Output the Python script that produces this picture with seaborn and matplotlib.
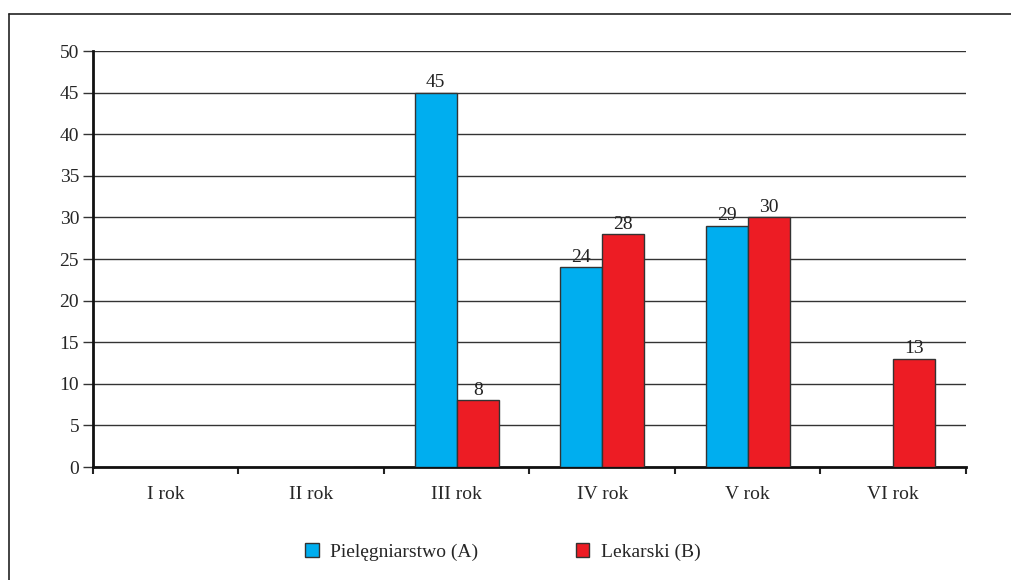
import pandas as pd
import matplotlib.pyplot as plt
import matplotlib.patches as mpatches
import numpy as np
import seaborn as sns

years = ['I rok', 'II rok', 'III rok', 'IV rok', 'V rok', 'VI rok']
nursing = [0, 0, 45, 24, 29, 0]      # Pielęgniarstwo (A)
medicine = [0, 0, 8, 28, 30, 13]     # Lekarski (B)
series = ['Pielęgniarstwo (A)', 'Lekarski (B)']
colors = ['#00AEEF', '#ED1C24']

df = pd.DataFrame({
    'rok': years * 2,
    'kierunek': [series[0]] * len(years) + [series[1]] * len(years),
    'n': nursing + medicine,
})

sns.set_style('white')
plt.rcParams['font.family'] = ['Liberation Serif', 'DejaVu Serif']
plt.rcParams['font.size'] = 14

fig = plt.figure(figsize=(10.12, 5.8), dpi=100)
ax = fig.add_axes([0.0919, 0.1948, 0.8626, 0.7172])

sns.barplot(data=df, x='rok', y='n', hue='kierunek', palette=colors,
            width=0.58, edgecolor='#333333', linewidth=1, saturation=1,
            legend=False, ax=ax, zorder=3)

for cont in ax.containers:
    labels = ['' if b.get_height() == 0 else f'{b.get_height():.0f}' for b in cont]
    ax.bar_label(cont, labels=labels, padding=1, fontsize=14, color='#222222')

ax.set_ylim(0, 50)
ax.set_xlim(-0.5, len(years) - 0.5)
ax.set_yticks(np.arange(0, 51, 5))
ax.yaxis.grid(True, color='#333333', linewidth=1)
ax.set_axisbelow(True)
ax.set_xlabel('')
ax.set_ylabel('')

ax.set_xticks(np.arange(-0.5, len(years)), minor=True)
ax.tick_params(axis='x', which='major', bottom=False, length=0, pad=14, labelsize=14)
ax.tick_params(axis='x', which='minor', bottom=True, length=5, width=1.5,
               direction='out', color='#222222')
ax.tick_params(axis='y', left=True, length=7, width=1, direction='out',
               color='#333333', labelsize=14, pad=3)

for s in ['top', 'right']:
    ax.spines[s].set_visible(False)
for s in ['left', 'bottom']:
    ax.spines[s].set_color('#111111')
    ax.spines[s].set_linewidth(2)

handles = [mpatches.Patch(facecolor=c, edgecolor='#333333', linewidth=1, label=l)
           for c, l in zip(colors, series)]
fig.legend(handles=handles, loc='center', bbox_to_anchor=(0.497, 0.048), ncol=2,
           frameon=False, handlelength=0.7, handleheight=0.7,
           handletextpad=0.6, columnspacing=5.0, fontsize=14)

# outer frame
fig.add_artist(plt.Line2D([9 / 1012, 1], [1 - 14 / 580, 1 - 14 / 580],
                          transform=fig.transFigure, color='#222222', linewidth=1.2))
fig.add_artist(plt.Line2D([9 / 1012, 9 / 1012], [0, 1 - 14 / 580],
                          transform=fig.transFigure, color='#222222', linewidth=1.2))

fig.savefig('out.png', dpi=100)
